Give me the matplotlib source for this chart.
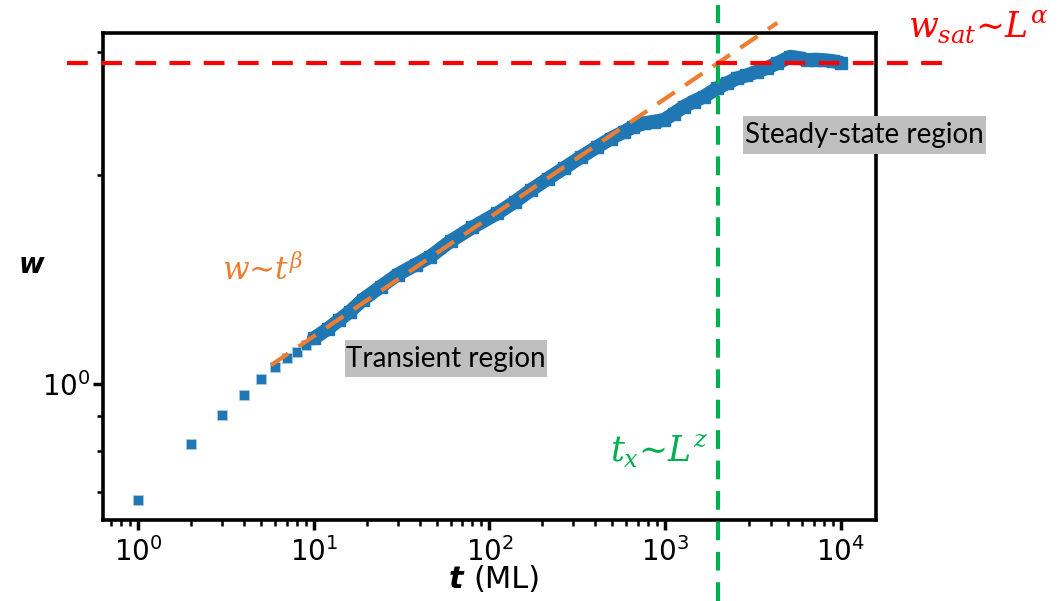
import matplotlib
matplotlib.use("Agg")
import matplotlib.pyplot as plt
from matplotlib.patches import Rectangle
from matplotlib.ticker import LogLocator, NullFormatter

# ---- data ----
t_early = [1, 2, 3, 4, 5, 6, 7, 8, 9, 10]
w_early = [0.681, 0.819, 0.903, 0.965, 1.016, 1.056, 1.089, 1.113, 1.138, 1.163]

t_band = [10, 12, 14, 16, 19, 24, 30, 38, 46, 60, 80, 111, 140, 172, 215, 265, 330,
          411, 490, 582, 660, 756, 860, 982, 1120, 1275, 1450, 1657, 1974, 2250,
          2566, 2900, 3334, 3800, 4329, 5152, 5800, 6412, 7200, 7966, 9000, 10000]
w_band = [1.163, 1.2, 1.237, 1.27, 1.322, 1.38, 1.437, 1.485, 1.525, 1.605, 1.68, 1.761,
          1.83, 1.901, 1.975, 2.044, 2.12, 2.195, 2.255, 2.307, 2.345, 2.372, 2.385, 2.398,
          2.45, 2.506, 2.55, 2.591, 2.664, 2.71, 2.754, 2.78, 2.815, 2.85, 2.894, 2.958,
          2.945, 2.925, 2.93, 2.925, 2.915, 2.899]

fit_t = [5.7, 4350]
fit_w = [1.064, 3.31]
w_sat = 2.9
t_x = 2000

xtick_vals = [1, 10, 100, 1000, 10000]
ytick_vals = [1]

W, H = 1063, 601
fig = plt.figure(figsize=(W / 100, H / 100), dpi=100)
ax = fig.add_axes([103 / W, 1 - 520 / H, (876 - 103) / W, (520 - 33) / H])

blue = "#1f77b4"
ax.plot(t_early, w_early, "s", color=blue, ms=7.5, mec="#a9cbe6", mew=0.6, zorder=3)
ax.plot(t_band, w_band, "-", color=blue, lw=10, solid_joinstyle="round",
        solid_capstyle="round", zorder=3)
ax.plot(t_band, w_band, "s", color=blue, ms=8, zorder=3)

ax.set_xscale("log")
ax.set_yscale("log")
ax.set_xlim(0.631, 15849)
ax.set_ylim(0.637, 3.2)

ax.plot(fit_t, fit_w, color="#ED7D31", lw=3, dashes=(5, 3), clip_on=False, zorder=5)
ax.axhline(w_sat, xmin=-0.047, xmax=1.093, color="#FF0000", lw=3, dashes=(5, 3.2),
           clip_on=False, zorder=6)
ax.axvline(t_x, ymin=-0.166, ymax=1.057, color="#00B050", lw=3, dashes=(4.5, 2.8),
           clip_on=False, zorder=6)

ax.set_xticks(xtick_vals)
ax.set_yticks(ytick_vals)
ax.xaxis.set_minor_locator(LogLocator(base=10, subs=range(2, 10), numticks=20))
ax.yaxis.set_minor_locator(LogLocator(base=10, subs=range(2, 10), numticks=20))
ax.xaxis.set_minor_formatter(NullFormatter())
ax.yaxis.set_minor_formatter(NullFormatter())
ax.tick_params(which="major", length=7, width=2.5, labelsize=20, pad=5)
ax.tick_params(axis="y", which="major", pad=2)
ax.tick_params(which="minor", length=4, width=1.8)
for s in ax.spines.values():
    s.set_linewidth(2.6)

# axis labels
fig.text(31 / W, 1 - 265 / H, "w", fontsize=20, fontweight="bold", fontstyle="italic",
         ha="center", va="center")
fig.text(463 / W, 1 - 579 / H, "t", fontsize=22, fontweight="bold", fontstyle="italic",
         ha="right", va="center")
fig.text(473 / W, 1 - 579 / H, "(ML)", fontsize=22, ha="left", va="center")

# annotations
fig.text(908 / W, 1 - 37 / H, r"$w_{sat}∼L^{\alpha}$", color="#FF0000",
         fontsize=25, math_fontfamily="dejavuserif", ha="left", va="baseline")
fig.text(222 / W, 1 - 281 / H, r"$w∼t^{\beta}$", color="#ED7D31",
         fontsize=22.5, math_fontfamily="dejavuserif", ha="left", va="baseline")
fig.text(610 / W, 1 - 461 / H, r"$t_{x}∼L^{z}$", color="#00B050",
         fontsize=25, math_fontfamily="dejavuserif", ha="left", va="baseline")

# gray label boxes
for (x0, y0, x1, y1, label) in [(345, 340, 547, 377, "Transient region"),
                                (743, 116, 986, 154, "Steady-state region")]:
    fig.patches.append(Rectangle((x0 / W, 1 - y1 / H), (x1 - x0) / W, (y1 - y0) / H,
                                 transform=fig.transFigure, facecolor="#BFBFBF",
                                 edgecolor="none", zorder=7))
    fig.text((x0 + x1) / 2 / W, 1 - (y0 + y1) / 2 / H, label, fontsize=20,
             family="Lato", ha="center", va="center", zorder=8)

fig.savefig("out.png", dpi=100)
